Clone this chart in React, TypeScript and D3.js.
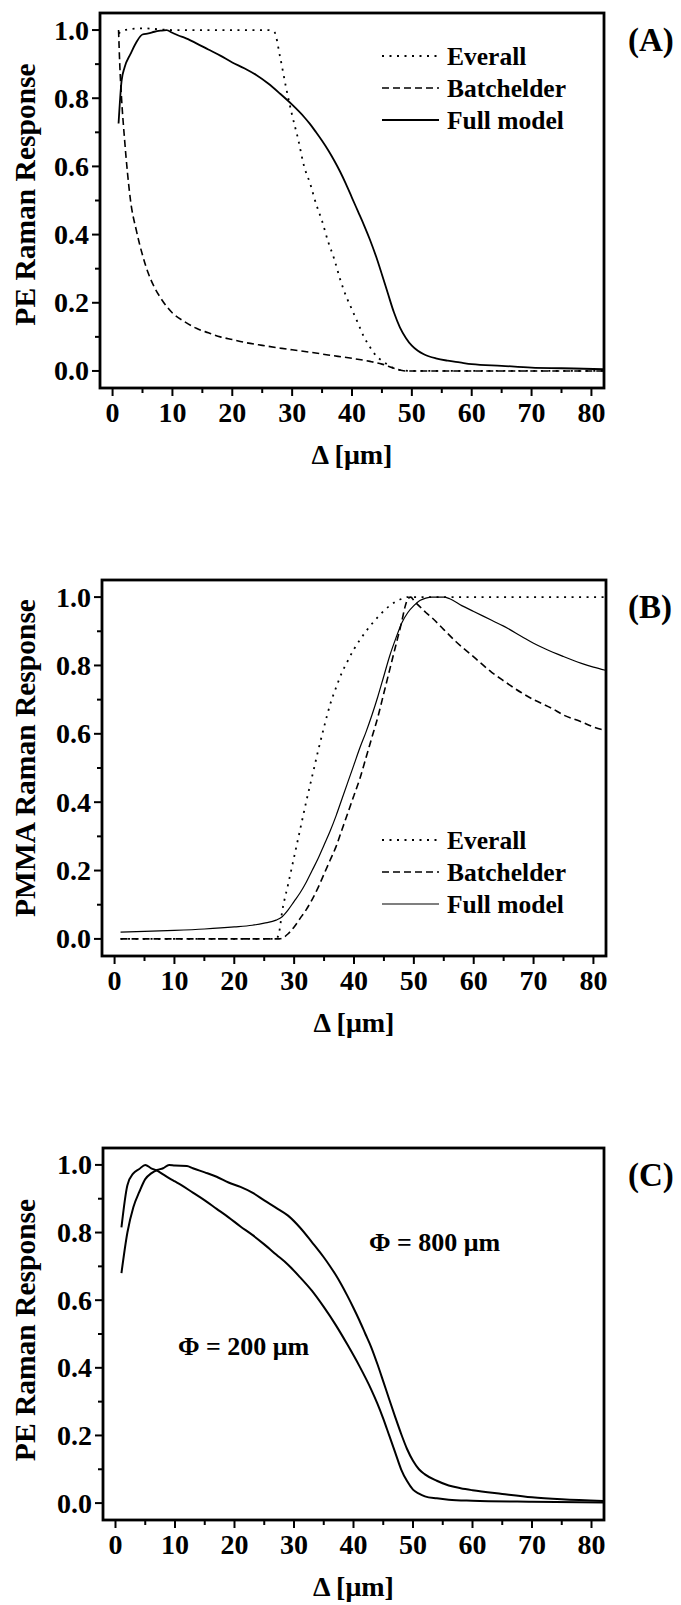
import React from "react";
import * as d3 from "d3";

type Pt = [number, number];

const xMajorTicks = [0, 10, 20, 30, 40, 50, 60, 70, 80];
const xMinorTicks = [5, 15, 25, 35, 45, 55, 65, 75];
const yMajorTicks = [0, 0.2, 0.4, 0.6, 0.8, 1.0];
const yMinorTicks = [0.1, 0.3, 0.5, 0.7, 0.9];

// Panel A: PE Raman response
const peEverall: Pt[] = [
  [1, 0.99], [2, 1.0], [5, 1.005], [10, 1.0], [20, 1.0], [26, 1.0], [27, 0.995], [28, 0.92], [29, 0.83],
  [30, 0.75], [31, 0.68], [32, 0.6], [33, 0.55], [34, 0.49], [35, 0.44], [36, 0.38], [37, 0.33],
  [38, 0.27], [39, 0.22], [40, 0.18], [41, 0.14], [42, 0.1], [43, 0.07], [44, 0.045], [45, 0.03],
  [46, 0.018], [47, 0.008], [48, 0.003], [50, 0], [82, 0],
];
const peBatchelder: Pt[] = [
  [1, 1.0], [1.2, 0.9], [1.5, 0.8], [2, 0.68], [2.5, 0.58], [3, 0.5], [4, 0.41], [5, 0.34], [6, 0.285],
  [7, 0.245], [8, 0.215], [9, 0.19], [10, 0.17], [12, 0.145], [14, 0.125], [16, 0.112], [18, 0.1],
  [20, 0.092], [22, 0.084], [25, 0.075], [28, 0.067], [30, 0.062], [33, 0.055], [36, 0.047], [40, 0.037],
  [43, 0.028], [45, 0.02], [47, 0.008], [48, 0.003], [49, 0], [82, 0],
];
const peFull: Pt[] = [
  [1, 0.726], [1.5, 0.85], [2, 0.89], [3, 0.93], [4, 0.965], [5, 0.987], [6, 0.99], [7, 0.995], [8, 0.998],
  [9, 1.0], [10, 0.992], [11, 0.984], [12, 0.978], [14, 0.961], [16, 0.943], [18, 0.925], [20, 0.905],
  [22, 0.888], [24, 0.868], [26, 0.843], [28, 0.813], [30, 0.781], [32, 0.745], [33, 0.724], [34, 0.7],
  [35, 0.675], [36, 0.648], [37, 0.618], [38, 0.585], [39, 0.548], [40, 0.508], [41, 0.468], [42, 0.428],
  [43, 0.385], [44, 0.337], [45, 0.283], [46, 0.227], [47, 0.172], [48, 0.128], [49, 0.097], [50, 0.074],
  [51, 0.059], [52, 0.049], [54, 0.037], [56, 0.03], [58, 0.025], [60, 0.02], [65, 0.015], [70, 0.01],
  [75, 0.008], [82, 0.005],
];

// Panel B: PMMA Raman response
const pmmaEverall: Pt[] = [
  [1, 0], [27, 0], [27.5, 0.02], [28, 0.08], [29, 0.16], [30, 0.24], [31, 0.32], [32, 0.4], [33, 0.475],
  [34, 0.55], [35, 0.62], [36, 0.685], [37, 0.735], [38, 0.78], [39, 0.815], [40, 0.848], [41, 0.875],
  [42, 0.9], [43, 0.922], [44, 0.942], [45, 0.96], [46, 0.975], [47, 0.987], [48, 0.995], [49, 1.0], [82, 1.0],
];
const pmmaBatchelder: Pt[] = [
  [1, 0], [27.5, 0], [28, 0.002], [29, 0.015], [30, 0.035], [31, 0.06], [32, 0.085], [33, 0.115],
  [34, 0.15], [35, 0.19], [36, 0.23], [37, 0.27], [38, 0.32], [39, 0.37], [40, 0.42], [41, 0.47],
  [42, 0.53], [43, 0.59], [44, 0.65], [45, 0.72], [46, 0.79], [47, 0.86], [48, 0.93], [48.5, 0.97],
  [49, 0.995], [49.5, 1.0], [50, 0.99], [51, 0.972], [52, 0.955], [53, 0.94], [55, 0.905], [57, 0.87],
  [60, 0.825], [63, 0.78], [65, 0.755], [68, 0.72], [70, 0.7], [73, 0.675], [75, 0.655], [78, 0.635],
  [80, 0.62], [82, 0.61],
];
const pmmaFull: Pt[] = [
  [1, 0.02], [5, 0.022], [10, 0.025], [15, 0.029], [20, 0.035], [23, 0.04], [25, 0.046], [27, 0.055],
  [28, 0.065], [29, 0.085], [30, 0.11], [31, 0.135], [32, 0.165], [33, 0.2], [34, 0.235], [35, 0.275],
  [36, 0.315], [37, 0.36], [38, 0.41], [39, 0.46], [40, 0.51], [41, 0.56], [42, 0.605], [43, 0.655],
  [44, 0.71], [45, 0.77], [46, 0.83], [47, 0.88], [48, 0.925], [49, 0.955], [50, 0.975], [51, 0.99],
  [52, 0.997], [53, 1.0], [55, 1.0], [56, 0.995], [58, 0.975], [60, 0.958], [63, 0.932], [65, 0.915],
  [68, 0.885], [70, 0.865], [72, 0.848], [75, 0.826], [78, 0.806], [80, 0.795], [82, 0.786],
];

// Panel C: PE Raman response for two fibre diameters
const phi800: Pt[] = [
  [1, 0.68], [2, 0.8], [3, 0.875], [4, 0.92], [5, 0.958], [6, 0.975], [7, 0.985], [8, 0.99], [9, 1.0],
  [10, 0.998], [12, 0.997], [13, 0.99], [15, 0.978], [17, 0.965], [19, 0.948], [21, 0.935], [23, 0.918],
  [25, 0.895], [27, 0.873], [29, 0.85], [31, 0.815], [33, 0.772], [35, 0.727], [36, 0.702], [37, 0.675],
  [38, 0.645], [39, 0.612], [40, 0.577], [41, 0.54], [42, 0.5], [43, 0.46], [44, 0.412], [45, 0.36],
  [46, 0.307], [47, 0.255], [48, 0.205], [49, 0.16], [50, 0.125], [51, 0.1], [52, 0.085], [54, 0.066],
  [56, 0.052], [58, 0.044], [60, 0.038], [65, 0.027], [70, 0.017], [75, 0.011], [82, 0.006],
];
const phi200: Pt[] = [
  [1, 0.815], [2, 0.94], [3, 0.975], [4, 0.988], [5, 1.0], [6, 0.99], [7, 0.983], [8, 0.972], [9, 0.961],
  [10, 0.951], [11, 0.941], [13, 0.918], [15, 0.895], [17, 0.87], [19, 0.845], [21, 0.818], [23, 0.793],
  [25, 0.765], [27, 0.735], [29, 0.705], [31, 0.668], [33, 0.628], [35, 0.58], [37, 0.527], [39, 0.468],
  [41, 0.405], [43, 0.335], [44, 0.295], [45, 0.25], [46, 0.2], [47, 0.15], [48, 0.1], [49, 0.065],
  [50, 0.04], [51, 0.028], [52, 0.02], [54, 0.014], [56, 0.01], [60, 0.007], [70, 0.004], [82, 0.002],
];

const legendLabels = ["Everall", "Batchelder", "Full model"];

const FONT = "'Liberation Serif', 'Times New Roman', Times, serif";
const W = 681;
const H = 1605;
const X_DOMAIN: [number, number] = [-2.1, 82.1];
const Y_DOMAIN: [number, number] = [-0.05, 1.05];

const DOT = "2,5.5";
const DASH = "7,4";

type Series = { data: Pt[]; dash?: string; width: number };
type Frame = { left: number; right: number; top: number; bottom: number };

type PanelProps = {
  frame: Frame;
  yLabel: string;
  yLabelShift: number;
  tag: string;
  series: Series[];
  legend?: { y0: number; gap: number };
  notes?: { text: string; x: number; y: number }[];
};

function Panel({ frame, yLabel, yLabelShift, tag, series, legend, notes }: PanelProps) {
  const x = d3.scaleLinear().domain(X_DOMAIN).range([frame.left, frame.right]);
  const y = d3.scaleLinear().domain(Y_DOMAIN).range([frame.bottom, frame.top]);
  const line = d3
    .line<Pt>()
    .x((d) => x(d[0]))
    .y((d) => y(d[1]))
    .curve(d3.curveMonotoneX);
  const fmt = d3.format(".1f");
  const cy = (frame.top + frame.bottom) / 2 + yLabelShift;
  const cx = (frame.left + frame.right) / 2;
  const clipId = "clip" + tag.replace(/[()]/g, "");
  return (
    <g>
      <defs>
        <clipPath id={clipId}>
          <rect x={frame.left} y={frame.top} width={frame.right - frame.left} height={frame.bottom - frame.top} />
        </clipPath>
      </defs>
      <g clipPath={`url(#${clipId})`}>
        {series.map((s, i) => (
          <path
            key={i}
            d={line(s.data) || ""}
            fill="none"
            stroke="#000"
            strokeWidth={s.width}
            strokeDasharray={s.dash}
          />
        ))}
      </g>
      <rect
        x={frame.left}
        y={frame.top}
        width={frame.right - frame.left}
        height={frame.bottom - frame.top}
        fill="none"
        stroke="#000"
        strokeWidth={2.8}
      />
      {xMajorTicks.map((t) => (
        <g key={"xm" + t}>
          <line x1={x(t)} x2={x(t)} y1={frame.bottom} y2={frame.bottom + 8} stroke="#000" strokeWidth={2} />
          <text x={x(t)} y={frame.bottom + 34} textAnchor="middle" fontFamily={FONT} fontWeight="bold" fontSize={28}>
            {t}
          </text>
        </g>
      ))}
      {xMinorTicks.map((t) => (
        <line key={"xn" + t} x1={x(t)} x2={x(t)} y1={frame.bottom} y2={frame.bottom + 5} stroke="#000" strokeWidth={2} />
      ))}
      {yMajorTicks.map((t) => (
        <g key={"ym" + t}>
          <line x1={frame.left - 8} x2={frame.left} y1={y(t)} y2={y(t)} stroke="#000" strokeWidth={2} />
          <text
            x={frame.left - 11}
            y={y(t) + 9.5}
            textAnchor="end"
            fontFamily={FONT}
            fontWeight="bold"
            fontSize={28}
          >
            {fmt(t)}
          </text>
        </g>
      ))}
      {yMinorTicks.map((t) => (
        <line key={"yn" + t} x1={frame.left - 5} x2={frame.left} y1={y(t)} y2={y(t)} stroke="#000" strokeWidth={2} />
      ))}
      <text
        transform={`translate(35,${cy}) rotate(-90)`}
        textAnchor="middle"
        fontFamily={FONT}
        fontWeight="bold"
        fontSize={29.5}
      >
        {yLabel}
      </text>
      <text x={cx} y={frame.bottom + 76} textAnchor="middle" fontFamily={FONT} fontWeight="bold" fontSize={28}>
        Δ [μm]
      </text>
      <text x={628} y={frame.top + 38} fontFamily={FONT} fontWeight="bold" fontSize={33}>
        {tag}
      </text>
      {legend &&
        legendLabels.map((lab, i) => {
          const ly = frame.top + legend.y0 + i * legend.gap;
          return (
            <g key={lab}>
              <line
                x1={382}
                x2={439}
                y1={ly}
                y2={ly}
                stroke="#000"
                strokeWidth={series[i].width}
                strokeDasharray={series[i].dash}
              />
              <text x={447} y={ly + 9} fontFamily={FONT} fontWeight="bold" fontSize={25.5}>
                {lab}
              </text>
            </g>
          );
        })}
      {notes &&
        notes.map((n) => (
          <text key={n.text} x={n.x} y={n.y} fontFamily={FONT} fontWeight="bold" fontSize={26}>
            {n.text}
          </text>
        ))}
    </g>
  );
}

export default function App() {
  return (
    <svg
      width={W}
      height={H}
      viewBox={`0 0 ${W} ${H}`}
      style={{ position: "absolute", left: 0, top: 0, background: "#fff" }}
    >
      <rect x={0} y={0} width={W} height={H} fill="#fff" />
      <Panel
        frame={{ left: 100, right: 604, top: 13, bottom: 388 }}
        yLabel="PE Raman Response"
        yLabelShift={-6}
        tag="(A)"
        series={[
          { data: peEverall, dash: DOT, width: 1.8 },
          { data: peBatchelder, dash: DASH, width: 1.6 },
          { data: peFull, width: 1.8 },
        ]}
        legend={{ y0: 43, gap: 32 }}
      />
      <Panel
        frame={{ left: 102, right: 606, top: 580, bottom: 956 }}
        yLabel="PMMA Raman Response"
        yLabelShift={-10}
        tag="(B)"
        series={[
          { data: pmmaEverall, dash: DOT, width: 1.8 },
          { data: pmmaBatchelder, dash: DASH, width: 1.6 },
          { data: pmmaFull, width: 1.2 },
        ]}
        legend={{ y0: 260, gap: 32 }}
      />
      <Panel
        frame={{ left: 103, right: 604, top: 1148, bottom: 1520 }}
        yLabel="PE Raman Response"
        yLabelShift={-4}
        tag="(C)"
        series={[
          { data: phi800, width: 2 },
          { data: phi200, width: 2 },
        ]}
        notes={[
          { text: "Φ = 800 μm", x: 369, y: 1251 },
          { text: "Φ = 200 μm", x: 178, y: 1355 },
        ]}
      />
    </svg>
  );
}
